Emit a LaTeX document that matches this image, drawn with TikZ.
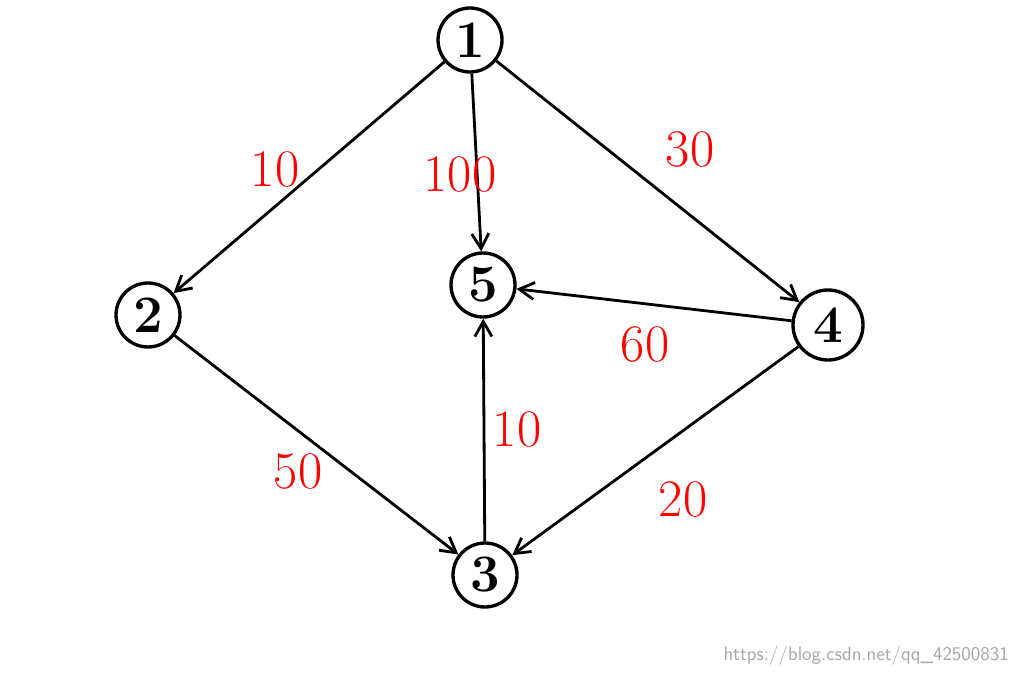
\documentclass[tikz,border=0pt]{standalone}
\usepackage{tikz}
\usetikzlibrary{
  arrows.meta
}

\begin{document}
\begin{tikzpicture}[
    x=0.02cm, y=-0.02cm,
    vertex/.style={
        circle,
        draw=black,
        line width=1.9pt,
        minimum size=1.28cm,
        inner sep=0pt,
        font=\fontsize{30}{30}\selectfont\bfseries
    },
    weight/.style={
        text=red,
        font=\fontsize{30}{30}\selectfont
    },
    arrow/.style={-{Straight Barb[length=3mm,width=3.4mm]}, line width=1.6pt},
    watermark/.style={text=gray!70, font=\fontsize{11}{11}\selectfont\sffamily}
]

\useasboundingbox (0,0) rectangle (1024,675);

% vertices
\node[vertex] (v1) at (470,40) {1};
\node[vertex] (v2) at (148,315) {2};
\node[vertex] (v5) at (483,285) {5};
\node[vertex, minimum width=1.4cm] (v4) at (828,325) {4};
\node[vertex] (v3) at (485,575) {3};

% edges
\draw[arrow] (v1) -- (v2);
\draw[arrow] (v1) -- (v5);
\draw[arrow] (v1) -- (v4);
\draw[arrow] (v4) -- (v5);
\draw[arrow] (v2) -- (v3);
\draw[arrow] (v3) -- (v5);
\draw[arrow] (v4) -- (v3);

% weights
\node[weight] (w12) at (275,170) {10};
\node[weight] (w15) at (460,175) {100};
\node[weight] (w14) at (690,150) {30};
\node[weight] (w45) at (645,345) {60};
\node[weight] (w23) at (298,472) {50};
\node[weight] (w35) at (517,430) {10};
\node[weight] (w43) at (683,500) {20};

% watermark
\node[watermark, anchor=east] (wm) at (1015,656) {https://blog.csdn.net/qq\_42500831};

\end{tikzpicture}
\end{document}
